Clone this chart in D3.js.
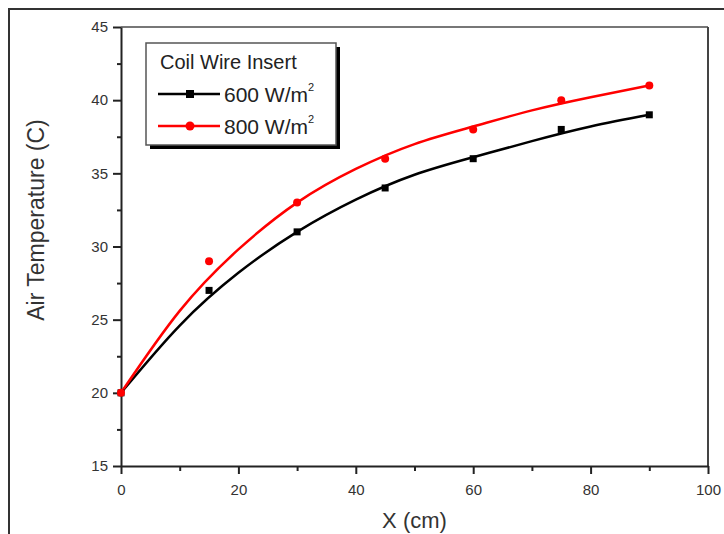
<!DOCTYPE html>
<html>
<head>
<meta charset="utf-8">
<script src="https://cdn.jsdelivr.net/npm/d3@7"></script>
<style>
  body { margin: 0; background: #fff; }
  svg { display: block; font-family: "Liberation Sans", Arial, sans-serif; }
</style>
</head>
<body>
<div id="chart"></div>
<script>
// measured points
var xPts = [0, 15, 30, 45, 60, 75, 90];
var t600 = [20, 27, 31, 34, 36, 38, 39];
var t800 = [20, 29, 33, 36, 38, 40, 41];

// fitted curves
var xFit = [0, 10, 20, 30, 40, 50, 60, 70, 80, 90];
var fit600 = [20, 24.6, 28.2, 31.0, 33.2, 34.9, 36.1, 37.2, 38.2, 39.0];
var fit800 = [20, 25.6, 29.8, 33.0, 35.3, 37.0, 38.2, 39.3, 40.2, 41.0];

var xTicks = [0, 20, 40, 60, 80, 100];
var yTicks = [15, 20, 25, 30, 35, 40, 45];

var W = 724, H = 534;
var margin = { top: 27, right: 16, bottom: 68, left: 121 };
var w = W - margin.left - margin.right,
    h = H - margin.top - margin.bottom;

var svg = d3.select("#chart").append("svg")
    .attr("width", W)
    .attr("height", H);

// outer frame of the picture
svg.append("path")
    .attr("d", "M9," + H + "V9H" + W)
    .attr("fill", "none")
    .attr("stroke", "#333")
    .attr("stroke-width", 2);

var g = svg.append("g")
    .attr("transform", "translate(" + margin.left + "," + margin.top + ")");

var x = d3.scaleLinear().domain([0, 100]).range([0, w]);
var y = d3.scaleLinear().domain([15, 45]).range([h, 0]);

// top and right frame of the plot
g.append("line").attr("x1", 0).attr("x2", w).attr("y1", 0).attr("y2", 0)
    .attr("stroke", "#777").attr("stroke-width", 2);
g.append("line").attr("x1", w).attr("x2", w).attr("y1", 0).attr("y2", h)
    .attr("stroke", "#444").attr("stroke-width", 2);

// minor ticks
g.append("g")
    .attr("transform", "translate(0," + h + ")")
    .call(d3.axisBottom(x).tickValues(d3.range(10, 100, 20)).tickSize(5).tickFormat(""))
    .call(function(a) { a.select(".domain").remove(); })
    .selectAll("line").attr("stroke", "#222").attr("stroke-width", 2);
g.append("g")
    .call(d3.axisLeft(y).tickValues(d3.range(17.5, 45, 5)).tickSize(4).tickFormat(""))
    .call(function(a) { a.select(".domain").remove(); })
    .selectAll("line").attr("stroke", "#222").attr("stroke-width", 2);

// major axes
var xAxis = g.append("g")
    .attr("transform", "translate(0," + h + ")")
    .call(d3.axisBottom(x).tickValues(xTicks).tickSize(8).tickSizeOuter(0).tickPadding(10));
var yAxis = g.append("g")
    .call(d3.axisLeft(y).tickValues(yTicks).tickSize(8).tickSizeOuter(0).tickPadding(5));

[xAxis, yAxis].forEach(function(a) {
  a.select(".domain").attr("stroke", "#222").attr("stroke-width", 2);
  a.selectAll(".tick line").attr("stroke", "#222").attr("stroke-width", 2);
  a.selectAll(".tick text")
      .attr("fill", "#333")
      .style("font-size", "15px")
      .style("font-family", "Liberation Sans, Arial, sans-serif");
});

// fitted curves
var line = d3.line()
    .x(function(d) { return x(d[0]); })
    .y(function(d) { return y(d[1]); })
    .curve(d3.curveNatural);

g.append("path")
    .datum(d3.zip(xFit, fit600))
    .attr("fill", "none")
    .attr("stroke", "#000")
    .attr("stroke-width", 2.5)
    .attr("d", line);

g.append("path")
    .datum(d3.zip(xFit, fit800))
    .attr("fill", "none")
    .attr("stroke", "#ff0000")
    .attr("stroke-width", 2.5)
    .attr("d", line);

// data points
g.selectAll(".sq")
    .data(d3.zip(xPts, t600))
    .enter().append("rect")
    .attr("x", function(d) { return x(d[0]) - 3.5; })
    .attr("y", function(d) { return y(d[1]) - 3.5; })
    .attr("width", 7)
    .attr("height", 7)
    .attr("fill", "#000");

g.selectAll(".dot")
    .data(d3.zip(xPts, t800))
    .enter().append("circle")
    .attr("cx", function(d) { return x(d[0]); })
    .attr("cy", function(d) { return y(d[1]); })
    .attr("r", 4)
    .attr("fill", "#ff0000");

// axis titles
svg.append("text")
    .attr("x", margin.left + x(50))
    .attr("y", 528)
    .attr("text-anchor", "middle")
    .attr("fill", "#333")
    .style("font-size", "22px")
    .text("X (cm)");

svg.append("text")
    .attr("transform", "translate(44,220) rotate(-90)")
    .attr("text-anchor", "middle")
    .attr("fill", "#333")
    .style("font-size", "23px")
    .text("Air Temperature (C)");

// legend
var lx = 146, ly = 43, lw = 190, lh = 102;
svg.append("rect")
    .attr("x", lx + 4).attr("y", ly + 4)
    .attr("width", lw).attr("height", lh)
    .attr("fill", "#000");
svg.append("rect")
    .attr("x", lx).attr("y", ly)
    .attr("width", lw).attr("height", lh)
    .attr("fill", "#fff")
    .attr("stroke", "#555")
    .attr("stroke-width", 1.5);

svg.append("text")
    .attr("x", lx + 14).attr("y", ly + 26)
    .attr("fill", "#222")
    .style("font-size", "20px")
    .text("Coil Wire Insert");

var legendRows = [
  { label: "600 W/m", color: "#000", mark: "square", cy: 94 },
  { label: "800 W/m", color: "#ff0000", mark: "circle", cy: 126 }
];

legendRows.forEach(function(r) {
  svg.append("line")
      .attr("x1", 158).attr("x2", 220)
      .attr("y1", r.cy).attr("y2", r.cy)
      .attr("stroke", r.color).attr("stroke-width", 2.5);
  if (r.mark === "square") {
    svg.append("rect").attr("x", 186).attr("y", r.cy - 4)
        .attr("width", 8).attr("height", 8).attr("fill", r.color);
  } else {
    svg.append("circle").attr("cx", 190).attr("cy", r.cy)
        .attr("r", 4.5).attr("fill", r.color);
  }
  var t = svg.append("text")
      .attr("x", 224).attr("y", r.cy + 8)
      .attr("fill", "#222")
      .style("font-size", "21px");
  t.append("tspan").text(r.label);
  t.append("tspan")
      .attr("dy", -11)
      .style("font-size", "11px")
      .text("2");
});
</script>
</body>
</html>
